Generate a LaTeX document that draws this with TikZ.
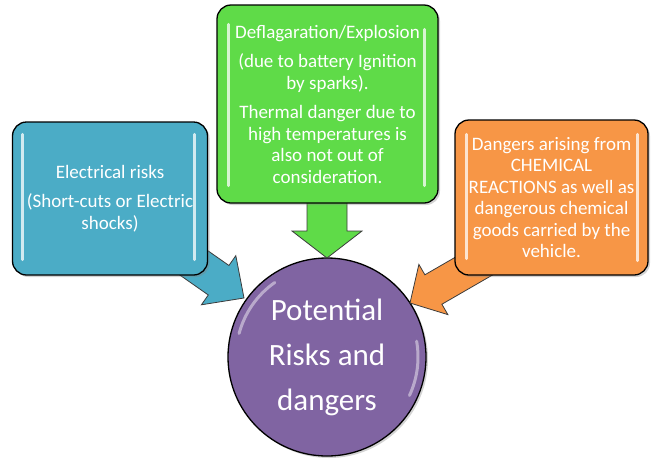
\documentclass[tikz,border=0pt]{standalone}
\usepackage{fontspec}
\setmainfont{Carlito}
\usetikzlibrary{shadows}
\definecolor{cblue}{RGB}{75,172,198}
\definecolor{cgreen}{RGB}{95,219,72}
\definecolor{corange}{RGB}{247,150,70}
\definecolor{cpurple}{RGB}{128,100,162}
\definecolor{cedge}{RGB}{60,60,60}
\begin{document}
\begin{tikzpicture}[x=1pt,y=-1pt,
  box/.style={draw=black, line width=1.3pt, rounded corners=14pt, text=white,
    align=center, inner sep=0pt, font=\fontsize{19}{21.5}\selectfont,
    drop shadow={shadow xshift=2pt,shadow yshift=-2pt,opacity=0.35}},
  hub/.style={circle, draw=black, line width=1.3pt, fill=cpurple, text=white,
    align=center, inner sep=0pt, minimum size=198pt,
    font=\fontsize{31}{45}\selectfont,
    drop shadow={shadow xshift=2pt,shadow yshift=-2pt,opacity=0.35}},
  blockarrow/.style={draw=cedge, line width=0.8pt, line join=miter},
  gloss/.style={draw=white, line width=3pt, line cap=round, opacity=0.75},
  softgloss/.style={draw=white, line width=3pt, line cap=round, opacity=0.45}]
\useasboundingbox (0,0) rectangle (652,459);

% hub
\node[hub] (core) at (327,357) {Potential\\Risks and\\dangers};
\draw[softgloss] ([shift={(195:91)}]core.center) arc[start angle=195, end angle=235, radius=91];
\draw[softgloss] ([shift={(-10:91)}]core.center) arc[start angle=-10, end angle=25, radius=91];

% tips of the block arrows
\coordinate (tipE) at (244,298);
\coordinate (tipD) at (327,258);
\coordinate (tipC) at (410,303);

% block arrows
\begin{scope}[shift={(tipE)}, rotate=-35]
  \draw[blockarrow, fill=cblue] (0,0) -- (-31,30) -- (-31,18) -- (-90,18)
    -- (-90,-18) -- (-31,-18) -- (-31,-30) -- cycle;
\end{scope}
\begin{scope}[shift={(tipD)}, rotate=-90]
  \draw[blockarrow, fill=cgreen] (0,0) -- (-27,35) -- (-27,20) -- (-70,20)
    -- (-70,-20) -- (-27,-20) -- (-27,-35) -- cycle;
\end{scope}
\begin{scope}[shift={(tipC)}, rotate=210]
  \draw[blockarrow, fill=corange] (0,0) -- (-27,29) -- (-27,17) -- (-100,17)
    -- (-100,-17) -- (-27,-17) -- (-27,-29) -- cycle;
\end{scope}

% boxes
\node[box, fill=cblue, minimum width=195pt, minimum height=153pt] (elec) at (110,198.5)
  {Electrical risks\\[8pt](Short-cuts or Electric\\shocks)};
\node[box, fill=cgreen, minimum width=221pt, minimum height=198pt] (fire) at (327.5,104)
  {Deflagaration/Explosion\\[8pt](due to battery Ignition\\by sparks).\\[8pt]Thermal danger due to\\high temperatures is\\also not out of\\consideration.};
\node[box, fill=corange, minimum width=193pt, minimum height=155pt] (chem) at (551.5,197.5)
  {Dangers arising from\\CHEMICAL\\REACTIONS as well as\\dangerous chemical\\goods carried by the\\vehicle.};

% glossy side bars
\draw[gloss] ([xshift=11pt,yshift=-13pt]elec.north west) -- ([xshift=11pt,yshift=16pt]elec.south west);
\draw[gloss] ([xshift=-14pt,yshift=-13pt]elec.north east) -- ([xshift=-14pt,yshift=16pt]elec.south east);
\draw[gloss] ([xshift=12pt,yshift=-20pt]fire.north west) -- ([xshift=12pt,yshift=18pt]fire.south west);
\draw[gloss] ([xshift=-14pt,yshift=-25pt]fire.north east) -- ([xshift=-14pt,yshift=18pt]fire.south east);
\draw[gloss] ([xshift=12pt,yshift=-15pt]chem.north west) -- ([xshift=12pt,yshift=17pt]chem.south west);
\draw[gloss] ([xshift=-11pt,yshift=-15pt]chem.north east) -- ([xshift=-11pt,yshift=15pt]chem.south east);
\end{tikzpicture}
\end{document}
